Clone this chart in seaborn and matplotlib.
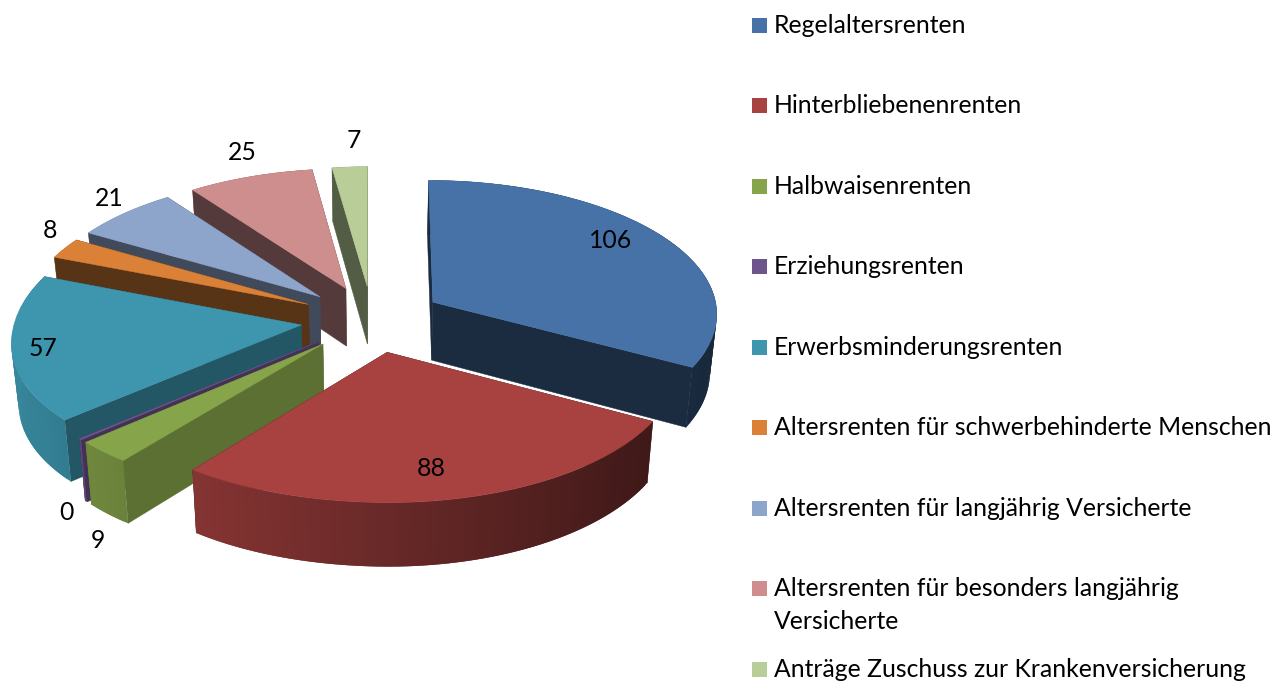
import numpy as np
import matplotlib
matplotlib.use("Agg")
import matplotlib.pyplot as plt
from matplotlib.patches import Rectangle
from matplotlib.transforms import Transform
import seaborn as sns

categories = ["Regelaltersrenten", "Hinterbliebenenrenten", "Halbwaisenrenten",
              "Erziehungsrenten", "Erwerbsminderungsrenten",
              "Altersrenten für schwerbehinderte Menschen",
              "Altersrenten für langjährig Versicherte",
              "Altersrenten für besonders langjährig\nVersicherte",
              "Anträge Zuschuss zur Krankenversicherung"]
values = [106, 88, 9, 0.49, 57, 8, 21, 25, 7]
hex_colors = ["#4672A8", "#A84240", "#86A44A", "#6E548D", "#3D96AE",
              "#DA8137", "#8EA5CB", "#CE8E8D", "#B8CD97"]

# style / layout
cut_shade = [0.38, 0.40, 0.68, 0.60, 0.58, 0.40, 0.45, 0.41, 0.45]
draw_rank = [7, 8, 6, 5, 4, 3, 2, 1, 0]
label_xy = [(611, 241), (431, 469), (98, 541), (66, 513), (43, 349),
            (50, 231), (109, 199), (242, 153), (354, 140)]
legend_y = [25, 105, 186, 266, 347, 427, 508, 588, 669]
EXPLODE = 0.25
CX, Y0, R, A, K = 372.0, 319.0, 285.5, 1750.0, 0.0763
KX_FRONT_LEFT, KX_OTHER = 0.115, 0.0763
FS = 17.8

sns.set_theme(style="white")
plt.rcParams["font.family"] = ["Lato", "DejaVu Sans"]
palette = sns.color_palette(hex_colors)


def project(xy):
    xy = np.asarray(xy, dtype=float)
    u, v = xy[..., 0], xy[..., 1]
    w = 1.0 / (1.0 + K * v)
    kx = np.where((u < 0) & (v < 0), KX_FRONT_LEFT, KX_OTHER)
    wx = 1.0 / (1.0 + kx * v)
    return np.stack([CX + R * u * wx, Y0 + A * (w - 1.0)], axis=-1)


def drop(p):
    p = np.asarray(p, dtype=float)
    d = 58.5 + 0.03 * (p[..., 1] - Y0)
    return np.stack([CX + (p[..., 0] - CX) * 0.98, p[..., 1] + d], axis=-1)


class Perspective(Transform):
    input_dims = 2
    output_dims = 2
    is_separable = False
    has_inverse = False

    def transform_non_affine(self, values):
        return project(values)


fig = plt.figure(figsize=(12.73, 6.82), dpi=100, facecolor="white")
ax = fig.add_axes([0, 0, 1, 1])

wedges, _ = ax.pie(values, explode=[EXPLODE] * len(values), colors=palette,
                   startangle=90, counterclock=False, radius=1.0,
                   wedgeprops=dict(linewidth=0.3))
ax.set_aspect("auto")
ax.set_xlim(0, 1273)
ax.set_ylim(682, 0)
ax.axis("off")

persp = Perspective() + ax.transData
edges = np.concatenate([[0], np.cumsum(values)]) / np.sum(values) * 2 * np.pi

for i, wedge in enumerate(wedges):
    rank = draw_rank[i]
    color = np.array(palette[i])
    wedge.set_transform(persp)
    wedge.set_edgecolor(color)
    wedge.set_zorder(rank + 0.5)

    t0, t1 = edges[i], edges[i + 1]
    mid = 0.5 * (t0 + t1)
    offset = EXPLODE * np.array([np.sin(mid), np.cos(mid)])
    apex = project(offset)
    n = max(3, int(np.degrees(t1 - t0) / 1.0) + 1)
    thetas = np.linspace(t0, t1, n)
    rim = project(offset + np.stack([np.sin(thetas), np.cos(thetas)], axis=-1))
    rim_low = drop(rim)
    apex_low = drop(apex)

    # flat cut faces
    dark = tuple(color * cut_shade[i])
    for p, q in ((rim[0], rim_low[0]), (rim[-1], rim_low[-1])):
        poly = np.array([apex, p, q, apex_low])
        ax.fill(poly[:, 0], poly[:, 1], color=dark, lw=0.3, zorder=rank + 0.2)

    # curved outer wall with horizontal light gradient; strips overlap to hide seams
    for j in range(n - 1):
        tm = 0.5 * (thetas[j] + thetas[j + 1])
        shade = np.clip(0.62 - 0.28 * np.sin(tm), 0, 1)
        k = min(j + 2, n - 1)
        poly = np.array([rim[j], rim[k], rim_low[k], rim_low[j]])
        z = rank + (0.1 if np.cos(tm) > 0 else 0.3)
        ax.fill(poly[:, 0], poly[:, 1], color=tuple(color * shade), lw=0,
                zorder=z)

for v, (x, y) in zip(values, label_xy):
    ax.text(x, y, f"{v:.0f}", fontsize=FS, color="black", ha="center",
            va="center", zorder=20)

for name, col, y in zip(categories, palette, legend_y):
    ax.add_patch(Rectangle((752, y - 7), 15, 15, facecolor=col,
                           edgecolor="none", zorder=20))
    ax.text(774, y - 11, name, fontsize=FS, color="black", ha="left", va="top",
            zorder=20, linespacing=1.55)

fig.savefig("out.png", dpi=100, facecolor="white")
